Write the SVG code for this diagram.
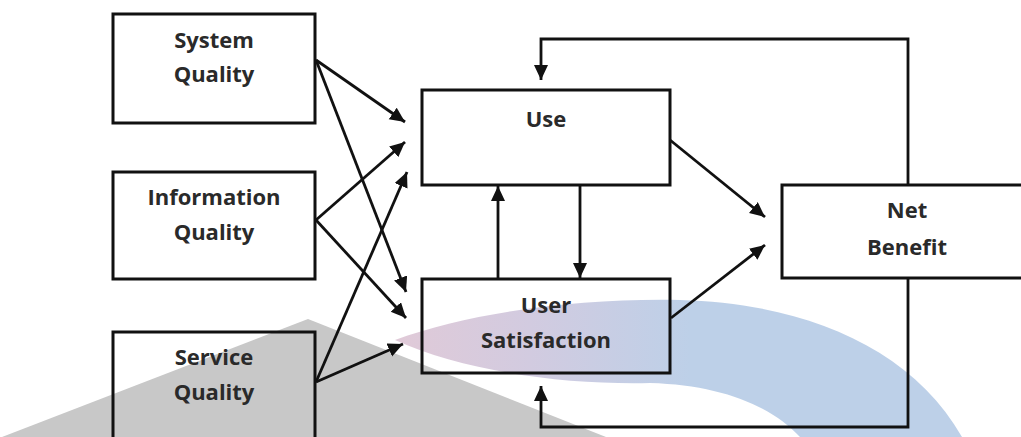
<svg xmlns="http://www.w3.org/2000/svg" width="1021" height="437" viewBox="0 0 1021 437">
<defs>
<linearGradient id="arcGrad" gradientUnits="userSpaceOnUse" x1="400" y1="0" x2="690" y2="0">
<stop offset="0" stop-color="#e0cad8"/>
<stop offset="0.45" stop-color="#d2cbe0"/>
<stop offset="1" stop-color="#bdd0e8"/>
</linearGradient>
<marker id="ah" markerUnits="userSpaceOnUse" markerWidth="17" markerHeight="15" refX="15" refY="7" orient="auto">
<path d="M0,0 L15,7 L0,14 Z" fill="#111"/>
</marker>
</defs>
<style>
.box{fill:none;stroke:#111;stroke-width:3}
.lbl{font-family:"Open Sans","Liberation Sans",sans-serif;font-weight:700;font-size:22px;fill:#2a2a2a;text-anchor:middle}
.c{fill:none;stroke:#111;stroke-width:2.8;marker-end:url(#ah)}
</style>
<rect width="1021" height="437" fill="#fff"/>
<g id="watermark">
<polygon points="2,437 308,319 606,437" fill="#c8c8c8"/>
<path d="M395,340 C470,312 580,298 680,300 C800,303 910,345 962,437 L800,437 C770,405 720,385 650,383 C560,385 460,370 395,340 Z" fill="url(#arcGrad)"/>
</g>
<g id="connectors">
<line class="c" x1="316" y1="60" x2="405" y2="122"/>
<line class="c" x1="316" y1="60" x2="406" y2="292"/>
<line class="c" x1="316" y1="220" x2="405" y2="142"/>
<line class="c" x1="316" y1="220" x2="406" y2="318"/>
<line class="c" x1="316" y1="382" x2="407" y2="172"/>
<line class="c" x1="316" y1="382" x2="403" y2="344"/>
<line class="c" x1="670" y1="140" x2="765" y2="217"/>
<line class="c" x1="671" y1="318" x2="765" y2="245"/>
<line class="c" x1="580" y1="185" x2="580" y2="278"/>
<line class="c" x1="498" y1="279" x2="498" y2="186"/>
<path class="c" d="M908,185 V39 H541 V80"/>
<path class="c" d="M908,278 V427 H541 V386"/>
</g>
<g id="system-quality">
<rect class="box" x="113" y="14" width="202" height="109"/>
<text class="lbl" x="214" y="48">System</text>
<text class="lbl" x="214" y="82">Quality</text>
</g>
<g id="information-quality">
<rect class="box" x="113" y="172" width="202" height="107"/>
<text class="lbl" x="214" y="205">Information</text>
<text class="lbl" x="214" y="240">Quality</text>
</g>
<g id="service-quality">
<rect class="box" x="113" y="332" width="202" height="110"/>
<text class="lbl" x="214" y="365">Service</text>
<text class="lbl" x="214" y="400">Quality</text>
</g>
<g id="use">
<rect class="box" x="422" y="90" width="248" height="95"/>
<text class="lbl" x="546" y="127">Use</text>
</g>
<g id="user-satisfaction">
<rect class="box" x="422" y="279" width="248" height="94"/>
<text class="lbl" x="546" y="313">User</text>
<text class="lbl" x="546" y="348">Satisfaction</text>
</g>
<g id="net-benefit">
<rect class="box" x="782" y="185" width="245" height="93"/>
<text class="lbl" x="907" y="218">Net</text>
<text class="lbl" x="907" y="255">Benefit</text>
</g>
</svg>
